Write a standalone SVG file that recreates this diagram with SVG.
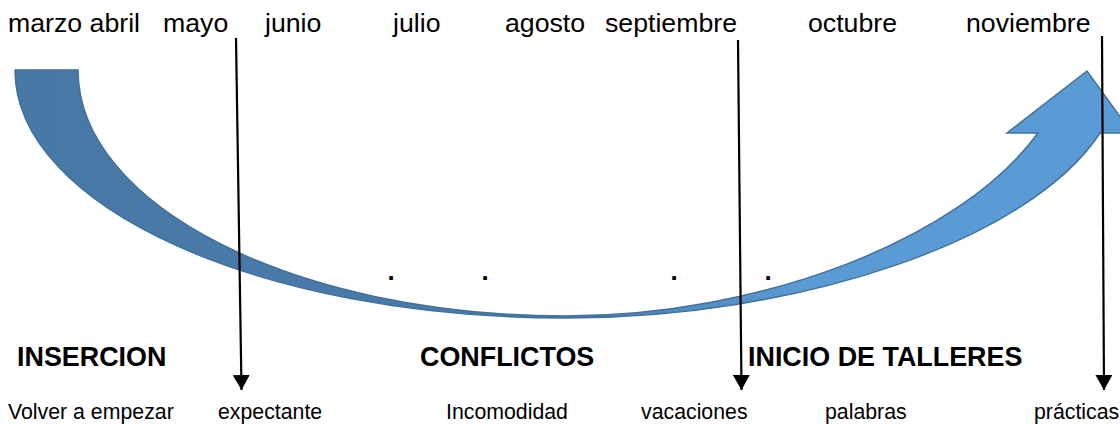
<svg xmlns="http://www.w3.org/2000/svg" width="1120" height="424" viewBox="0 0 1120 424">
  <defs>
    <linearGradient id="arrowFill" gradientUnits="userSpaceOnUse" x1="15" y1="0" x2="1120" y2="0">
      <stop offset="0" stop-color="#4778a6"/>
      <stop offset="0.48" stop-color="#497bab"/>
      <stop offset="0.72" stop-color="#5b9bd5"/>
      <stop offset="1" stop-color="#5b9bd5"/>
    </linearGradient>
    <marker id="head" markerWidth="15" markerHeight="17" refX="15" refY="8.5" orient="auto" markerUnits="userSpaceOnUse" viewBox="0 0 15 17">
      <path d="M0,0 L15,8.5 L0,17 Z" fill="#000"/>
    </marker>
    <style>
      .month { font-family: "Liberation Sans", Arial, sans-serif; font-size: 26.7px; fill: #000; }
      .phase { font-family: "Liberation Sans", Arial, sans-serif; font-size: 26.9px; font-weight: bold; fill: #000; }
      .state { font-family: "Liberation Sans", Arial, sans-serif; font-size: 21.3px; fill: #000; }
      .dot { font-family: "Liberation Sans", Arial, sans-serif; font-size: 26px; font-weight: bold; fill: #000; text-anchor: middle; }
      .conn { stroke: #000; stroke-width: 2.2; fill: none; }
    </style>
  </defs>
  <rect width="1120" height="424" fill="#fff"/>

  <g id="curved-arrow">
    <path d="M15,70 L78,70 C78,206 296,316 565,316 C760,316 960,240 1038,133 L1007,133 L1087,71 L1132,133 L1100,133 C1030,240 800,318 565,318 C261,318 15,207 15,70 Z" fill="url(#arrowFill)" stroke="#41719c" stroke-width="1.5" stroke-linejoin="miter"/>
  </g>

  <g id="months">
    <text class="month" x="8" y="32">marzo abril</text>
    <text class="month" x="163" y="32">mayo</text>
    <text class="month" x="265" y="32">junio</text>
    <text class="month" x="393" y="32">julio</text>
    <text class="month" x="505" y="32">agosto</text>
    <text class="month" x="605" y="32">septiembre</text>
    <text class="month" x="808" y="32">octubre</text>
    <text class="month" x="966" y="32">noviembre</text>
  </g>

  <g id="dots">
    <text class="dot" x="391" y="280">.</text>
    <text class="dot" x="485" y="280">.</text>
    <text class="dot" x="674" y="280">.</text>
    <text class="dot" x="768" y="280">.</text>
  </g>

  <g id="phase-insercion"><text class="phase" x="17" y="366">INSERCION</text></g>
  <g id="phase-conflictos"><text class="phase" x="420" y="366">CONFLICTOS</text></g>
  <g id="phase-talleres"><text class="phase" x="748" y="366">INICIO DE TALLERES</text></g>

  <g id="state-volver"><text class="state" x="8" y="419">Volver a empezar</text></g>
  <g id="state-expectante"><text class="state" x="218" y="419">expectante</text></g>
  <g id="state-incomodidad"><text class="state" x="446" y="419">Incomodidad</text></g>
  <g id="state-vacaciones"><text class="state" x="641" y="419">vacaciones</text></g>
  <g id="state-palabras"><text class="state" x="825" y="419">palabras</text></g>
  <g id="state-practicas"><text class="state" x="1034" y="419">prácticas</text></g>

  <g id="connectors">
    <line class="conn" x1="236" y1="38" x2="241.5" y2="390" marker-end="url(#head)"/>
    <line class="conn" x1="738" y1="40" x2="741.5" y2="390" marker-end="url(#head)"/>
    <line class="conn" x1="1102" y1="36" x2="1104" y2="390" marker-end="url(#head)"/>
  </g>
</svg>
